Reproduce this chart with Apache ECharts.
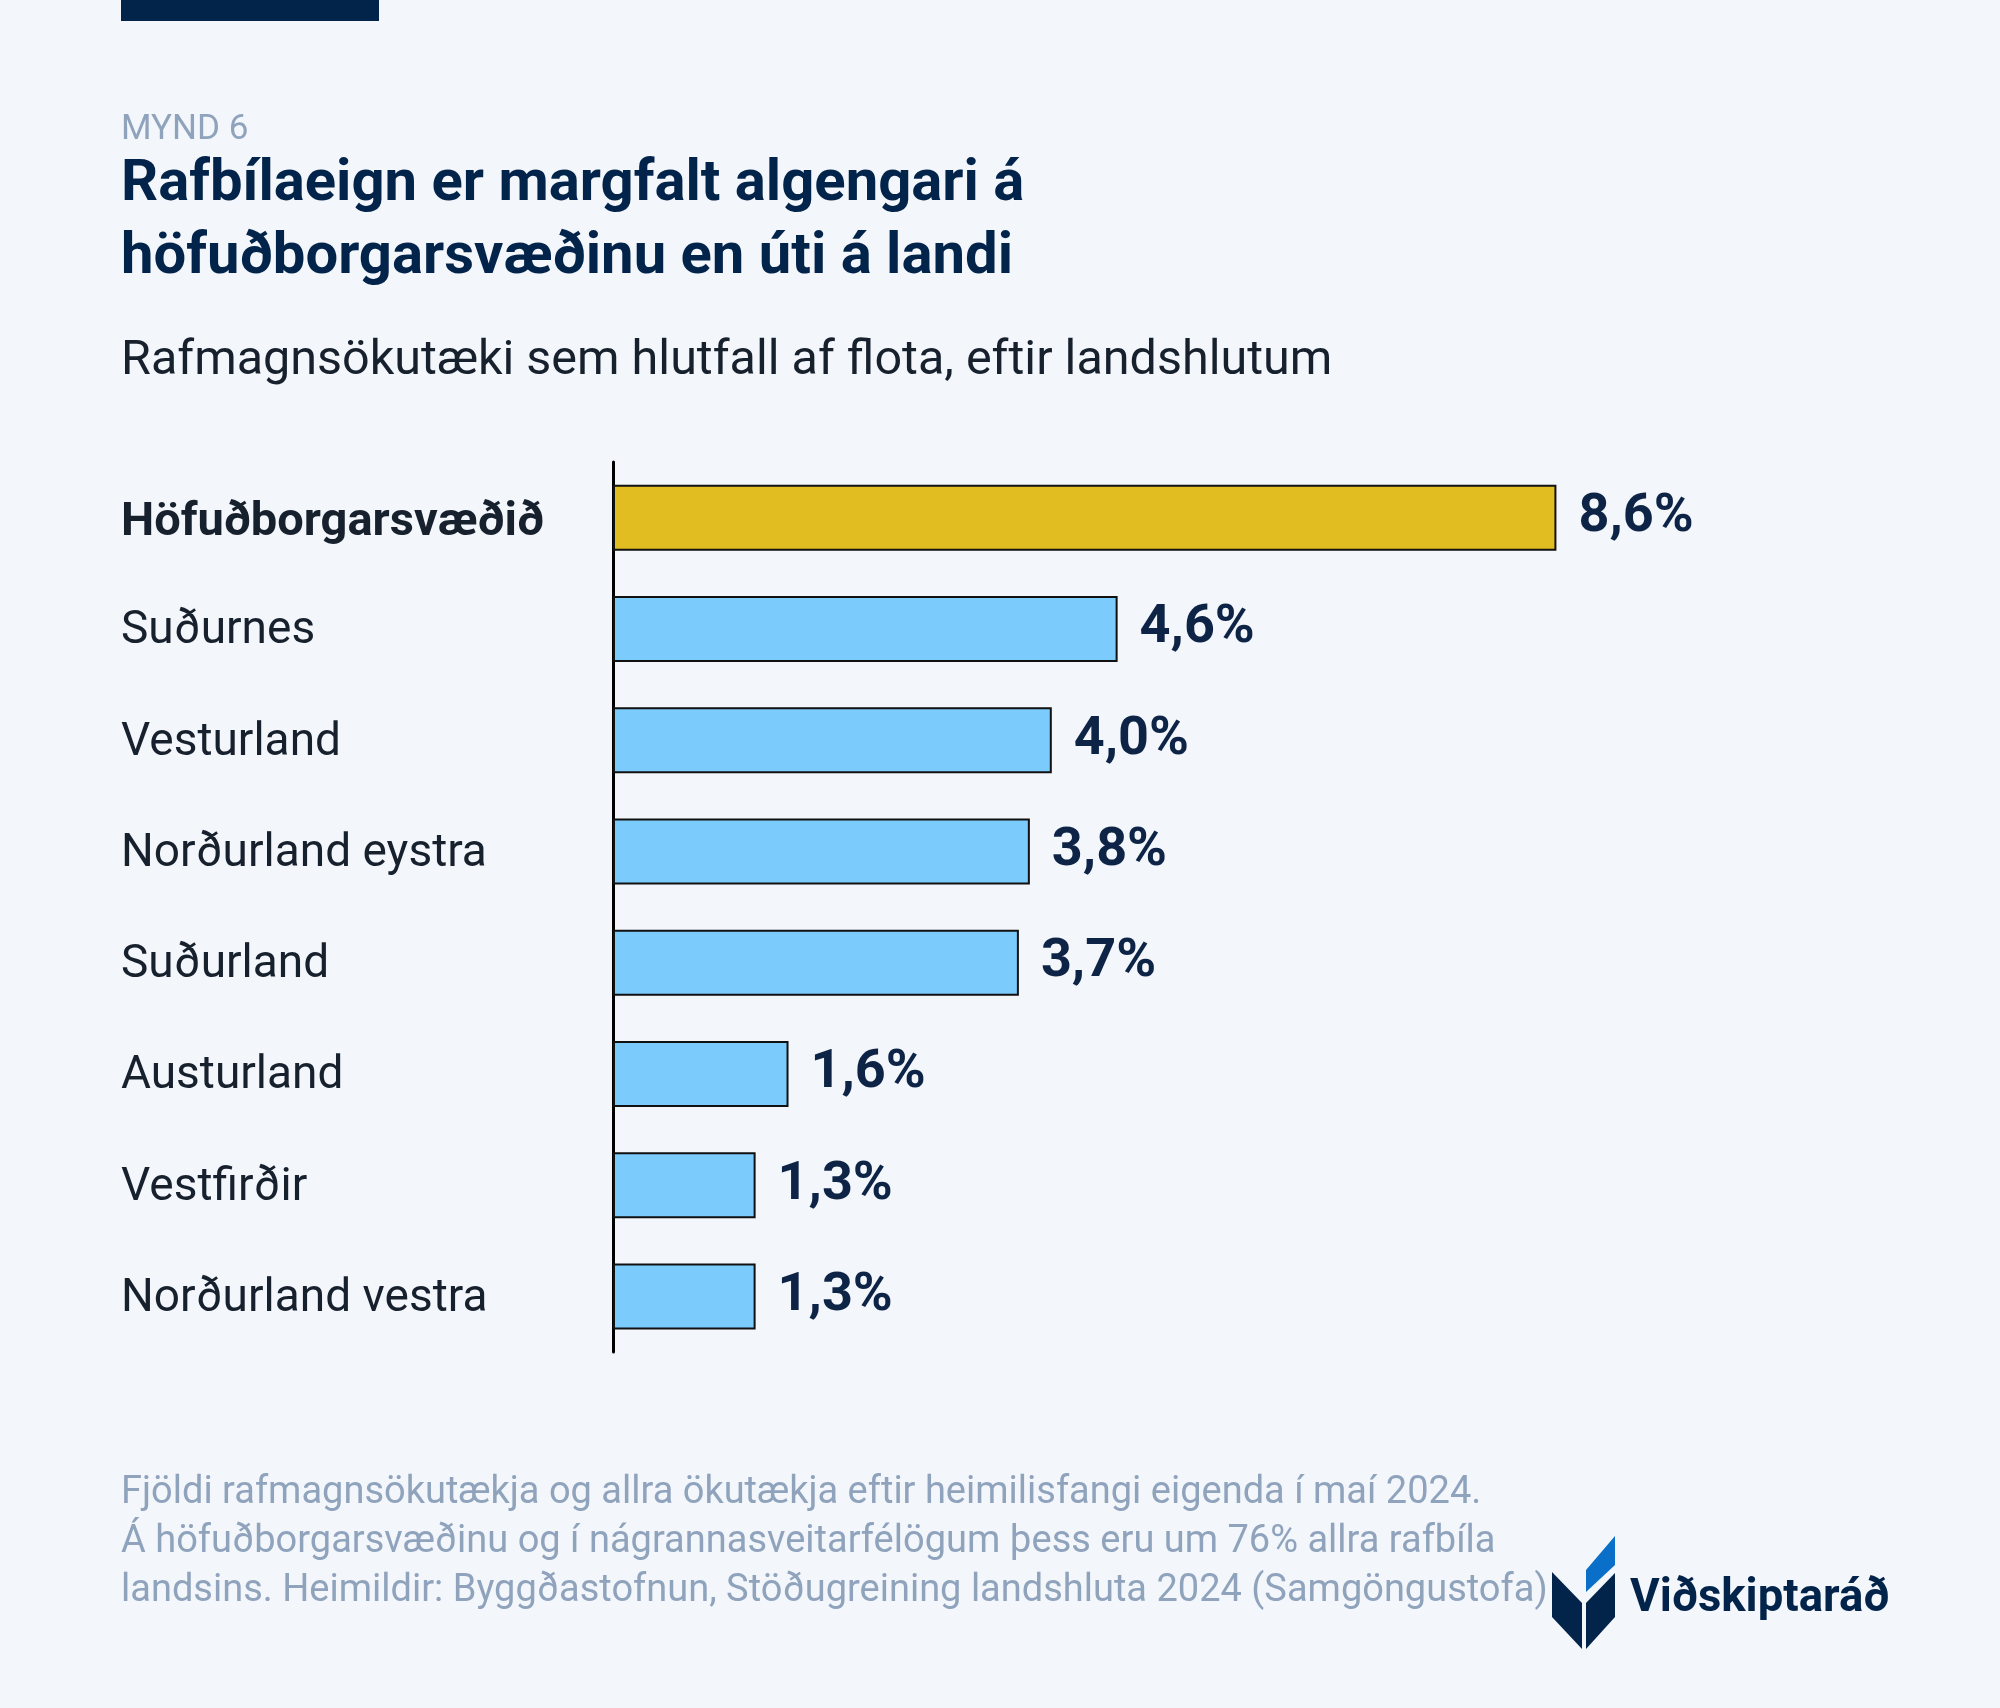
<!DOCTYPE html>
<html>
<head>
<meta charset="utf-8">
<script src="https://cdn.jsdelivr.net/npm/echarts@6/dist/echarts.min.js"></script>
<style>
  html, body { margin: 0; padding: 0; background: #F3F6FB; }
  #chart { width: 2000px; height: 1708px; }
</style>
</head>
<body>
<div id="chart"></div>
<script>
// Landshlutar, frá toppi niður
var regions = ['Höfuðborgarsvæðið', 'Suðurnes', 'Vesturland', 'Norðurland eystra', 'Suðurland', 'Austurland', 'Vestfirðir', 'Norðurland vestra']
// Hlutfall rafmagnsökutækja af flota (%)
var shares = [8.6, 4.6, 4.0, 3.8, 3.7, 1.6, 1.3, 1.3]

var figLabel = 'MYND 6'
var titleLines = ['Rafbílaeign er margfalt algengari á', 'höfuðborgarsvæðinu en úti á landi']
var subtitle = 'Rafmagnsökutæki sem hlutfall af flota, eftir landshlutum'
var footLines = [
    'Fjöldi rafmagnsökutækja og allra ökutækja eftir heimilisfangi eigenda í maí 2024.',
    'Á höfuðborgarsvæðinu og í nágrannasveitarfélögum þess eru um 76% allra rafbíla',
    'landsins. Heimildir: Byggðastofnun, Stöðugreining landshluta 2024 (Samgöngustofa)'
]
var brand = 'Viðskiptaráð'

var FONT = 'Roboto, "Noto Sans", sans-serif'
var NAVY = '#03244A'
var GOLD = '#E1BD22'
var BLUE = '#7BCBFD'

var myChart = echarts.init(document.getElementById('chart'))

// textaeining með grunnlínu y
function txt (s, x, base, size, weight, color) {
    return {
        type: 'text',
        style: {
            text: s,
            x: x,
            y: base - size * 0.35 + 6,
            fill: color,
            font: weight + ' ' + size + 'px ' + FONT,
            verticalAlign: 'middle'
        }
    }
}

var graphics = [
    // dökk rönd efst
    { type: 'rect', shape: { x: 121, y: 0, width: 258, height: 21 }, style: { fill: NAVY } },
    txt(figLabel, 121, 136, 35, 'normal', '#8FA3BC'),
    txt(titleLines[0], 121, 200, 58, 'bold', NAVY),
    txt(titleLines[1], 121, 273, 58, 'bold', NAVY),
    txt(subtitle, 121, 373, 48.5, 'normal', '#17202D'),
    // merki
    { type: 'polygon', shape: { points: [[1552, 1572], [1582, 1603], [1582, 1649], [1552, 1617]] }, style: { fill: NAVY } },
    { type: 'polygon', shape: { points: [[1586, 1603], [1615, 1573], [1615, 1617], [1586, 1649]] }, style: { fill: NAVY } },
    { type: 'polygon', shape: { points: [[1586, 1592], [1586, 1570], [1615, 1536], [1615, 1565]] }, style: { fill: '#0A6FC8' } },
    txt(brand, 1630, 1610, 45.5, 'bold', NAVY)
]
footLines.forEach(function (line, i) {
    graphics.push(txt(line, 121, 1501 + i * 49, 38, 'normal', '#8FA3BC'))
})

myChart.setOption({
    backgroundColor: '#F3F6FB',
    animation: false,
    textStyle: { fontFamily: FONT },
    grid: {
        left: 613,
        right: 290,
        top: 462,
        bottom: 356
    },
    xAxis: {
        type: 'value',
        min: 0,
        max: 10,
        show: false,
        splitLine: { show: false }
    },
    yAxis: {
        type: 'category',
        inverse: true,
        data: regions,
        axisTick: { show: false },
        axisLine: { show: true, lineStyle: { color: '#000', width: 3 } },
        axisLabel: {
            align: 'left',
            margin: 492,
            fontSize: 46,
            color: '#17202D',
            padding: [6, 0, 0, 0],
            formatter: function (v, i) {
                return i === 0 ? '{b|' + v + '}' : v
            },
            rich: {
                b: { fontSize: 47, fontWeight: 'bold', color: '#17202D', fontFamily: FONT, padding: [6, 0, 0, 0] }
            }
        }
    },
    series: [{
        type: 'bar',
        data: shares,
        barWidth: 66,
        itemStyle: {
            color: function (p) { return p.dataIndex === 0 ? GOLD : BLUE },
            borderColor: '#111',
            borderWidth: 2
        },
        label: {
            show: true,
            position: 'right',
            distance: 22,
            fontSize: 54,
            fontWeight: 'bold',
            color: '#0E2446',
            formatter: function (p) {
                return p.value.toFixed(1).replace('.', ',') + '%'
            }
        }
    }],
    graphic: graphics
})
</script>
</body>
</html>
